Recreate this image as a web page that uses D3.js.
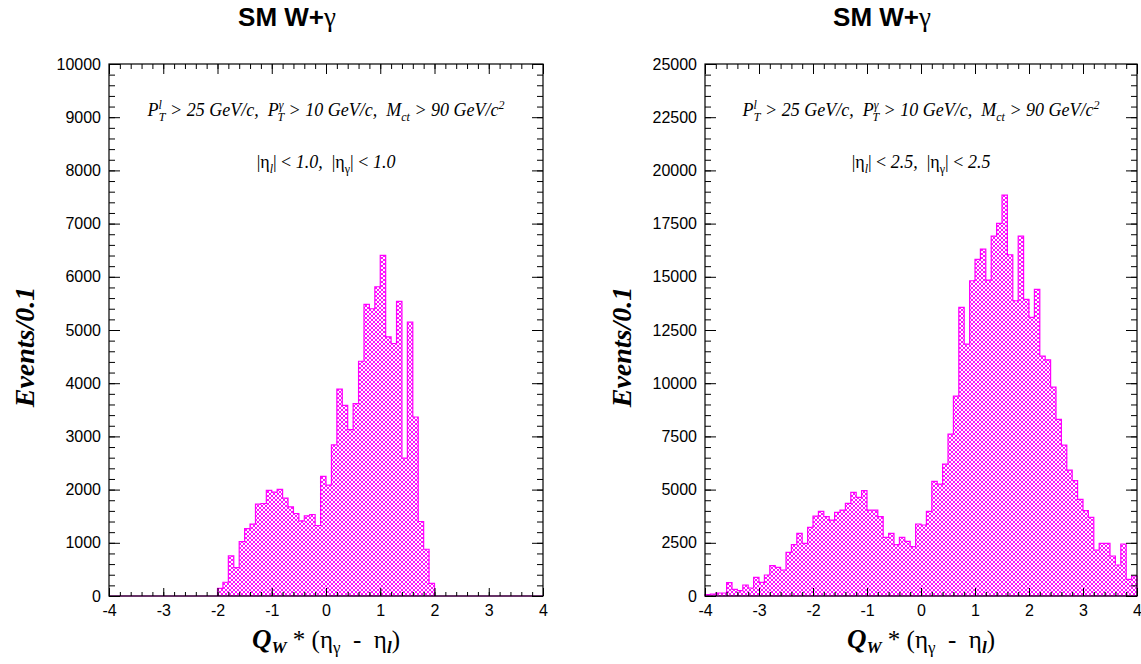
<!DOCTYPE html>
<html>
<head>
<meta charset="utf-8">
<script src="https://cdn.jsdelivr.net/npm/d3@7"></script>
<style>
  body { margin: 0; background: #fff; }
  text { white-space: pre; }
</style>
</head>
<body>
<svg id="chart" width="1141" height="664"></svg>
<script>
// histogram binning (lower edge of first bin, width)
const binStart = -4;
const binWidth = 0.1;

// |eta| < 1.0, counts per 0.1 bin from -4.0 to 3.9
const leftCounts = [
  0, 0, 0, 0, 0, 0, 0, 0, 0, 0,
  0, 0, 0, 0, 0, 0, 0, 0, 0, 0,
  145, 258, 753, 533, 1023, 1268, 1350, 1726, 1739, 1984,
  1953, 2003, 1840, 1676, 1551, 1412, 1507, 1532, 1325, 2248,
  2085, 2840, 3890, 3585, 3126, 3616, 4413, 5480, 5399, 5813,
  6403, 4871, 4746, 5537, 2593, 5147, 3365, 1400, 879, 239,
  0, 0, 0, 0, 0, 0, 0, 0, 0, 0,
  0, 0, 0, 0, 0, 0, 0, 0, 0, 0
];

// |eta| < 2.5
const rightCounts = [
  60, 90, 140, 140, 626, 313, 250, 517, 376, 877,
  642, 987, 1425, 1347, 1221, 2051, 2412, 2944, 2474, 3226,
  3758, 3978, 3727, 3570, 3930, 4040, 4353, 4870, 4635, 4948,
  4040, 4040, 3727, 2756, 2944, 2412, 2756, 2568, 2318, 3383,
  3336, 3978, 5387, 5262, 6201, 7611, 9396, 13562, 11839, 14814,
  15817, 16302, 14846, 16913, 17508, 18839, 16036, 13875, 16913, 13937,
  13092, 14407, 11275, 11100, 9820, 8300, 7094, 5919, 5418, 4541,
  4009, 3696, 2161, 2474, 2474, 1879, 1456, 2443, 783, 940
];

const xTicks = [-4, -3, -2, -1, 0, 1, 2, 3, 4];
const xMinor = d3.range(-4, 4.001, 0.2);
const leftYTicks = [0, 1000, 2000, 3000, 4000, 5000, 6000, 7000, 8000, 9000, 10000];
const rightYTicks = [0, 2500, 5000, 7500, 10000, 12500, 15000, 17500, 20000, 22500, 25000];
const etaCut = ["1.0", "2.5"];

const svg = d3.select("#chart");
svg.append("rect").attr("width", 1141).attr("height", 664).attr("fill", "#fff");

// cross-hatch fill like the ROOT style
const defs = svg.append("defs");
const pat = defs.append("pattern")
  .attr("id", "hatch")
  .attr("patternUnits", "userSpaceOnUse")
  .attr("width", 4).attr("height", 4);
pat.append("rect").attr("width", 4).attr("height", 4).attr("fill", "#fff");
pat.append("path").attr("d", "M0,0 L4,4 M4,0 L0,4 M-1,3 L1,5 M3,-1 L5,1 M-1,1 L1,-1 M3,5 L5,3")
  .attr("stroke", "#ff00ff").attr("stroke-width", 0.95);

const panels = [
  { counts: leftCounts, yTicks: leftYTicks, yMax: 10000, minorStep: 200,
    x0: 109, x1: 543, top: 64, bottom: 596, cut: etaCut[0], titleX: 287, yTitleX: 24 },
  { counts: rightCounts, yTicks: rightYTicks, yMax: 25000, minorStep: 500,
    x0: 705, x1: 1137, top: 64, bottom: 596, cut: etaCut[1], titleX: 882, yTitleX: 621 }
];

panels.forEach(p => {
  const x = d3.scaleLinear().domain([-4, 4]).range([p.x0, p.x1]);
  const y = d3.scaleLinear().domain([0, p.yMax]).range([p.bottom, p.top]);
  const g = svg.append("g");
  const cx = (p.x0 + p.x1) / 2;

  // histogram as step area
  const pts = p.counts.map((c, i) => [binStart + i * binWidth, c]);
  pts.push([binStart + p.counts.length * binWidth, p.counts[p.counts.length - 1]]);
  const area = d3.area()
    .x(d => x(d[0])).y0(y(0)).y1(d => y(d[1]))
    .curve(d3.curveStepAfter);
  g.append("path").attr("d", area(pts))
    .attr("fill", "url(#hatch)")
    .attr("stroke", "#ff00ff").attr("stroke-width", 1.2);

  // ticks, all pointing inward
  const minorY = d3.range(0, p.yMax + 1, p.minorStep);
  g.append("g").attr("transform", `translate(0,${p.bottom})`)
    .call(d3.axisBottom(x).tickValues(xMinor).tickSize(-4).tickFormat(""));
  g.append("g").attr("transform", `translate(0,${p.bottom})`)
    .call(d3.axisBottom(x).tickValues(xTicks).tickSize(-8).tickPadding(9).tickFormat(d => String(d)));
  g.append("g").attr("transform", `translate(0,${p.top})`)
    .call(d3.axisTop(x).tickValues(xMinor).tickSize(-5).tickFormat(""));
  g.append("g").attr("transform", `translate(0,${p.top})`)
    .call(d3.axisTop(x).tickValues(xTicks).tickSize(-10).tickFormat(""));
  g.append("g").attr("transform", `translate(${p.x0},0)`)
    .call(d3.axisLeft(y).tickValues(minorY).tickSize(-6).tickFormat(""));
  g.append("g").attr("transform", `translate(${p.x0},0)`)
    .call(d3.axisLeft(y).tickValues(p.yTicks).tickSize(-11).tickPadding(8).tickFormat(d => String(d)));
  g.append("g").attr("transform", `translate(${p.x1},0)`)
    .call(d3.axisRight(y).tickValues(minorY).tickSize(-6).tickFormat(""));
  g.append("g").attr("transform", `translate(${p.x1},0)`)
    .call(d3.axisRight(y).tickValues(p.yTicks).tickSize(-11).tickFormat(""));

  g.selectAll(".domain").remove();
  g.selectAll(".tick line").attr("stroke", "#000").attr("stroke-width", 1);
  g.selectAll(".tick text")
    .attr("font-family", "Liberation Sans, Arial, sans-serif")
    .attr("font-size", 16).attr("fill", "#000");

  // frame
  g.append("rect")
    .attr("x", p.x0).attr("y", p.top)
    .attr("width", p.x1 - p.x0).attr("height", p.bottom - p.top)
    .attr("fill", "none").attr("stroke", "#000").attr("stroke-width", 1.2);

  // title
  const serif = "Liberation Serif, Times New Roman, serif";
  const title = svg.append("text").attr("x", p.titleX).attr("y", 26)
    .attr("text-anchor", "middle")
    .attr("font-family", "Liberation Sans, Arial, sans-serif")
    .attr("font-weight", "bold").attr("font-size", 26);
  title.append("tspan").text("SM W+");
  title.append("tspan").text("\u03b3").attr("font-family", serif)
    .attr("font-weight", "normal").attr("font-size", 27);

  // cut annotations
  const t1 = svg.append("text").attr("x", cx).attr("y", 116)
    .attr("text-anchor", "middle").attr("font-family", serif)
    .attr("font-style", "italic").attr("font-size", 18);
  const parts1 = [
    ["P"], ["l", 0, -7, 12], ["T", -3, 12, 12], [" > 25 GeV/c,  ", 0, -5],
    ["P"], ["\u03b3", 0, -7, 12], ["T", -6, 12, 12], [" > 10 GeV/c,  ", 0, -5],
    ["M"], ["ct", 0, 5, 12], [" > 90 GeV/c", 0, -5], ["2", 0, -7, 12]
  ];
  parts1.forEach(([s, dx, dy, fs]) => {
    const ts = t1.append("tspan").text(s);
    if (dx) ts.attr("dx", dx);
    if (dy) ts.attr("dy", dy);
    if (fs) ts.attr("font-size", fs);
  });

  const t2 = svg.append("text").attr("x", cx).attr("y", 168)
    .attr("text-anchor", "middle").attr("font-family", serif)
    .attr("font-size", 18);
  const parts2 = [
    ["|\u03b7", 0, 0, 0, "normal"], ["l", 0, 5, 12, "italic"], ["| < ", 0, -5, 0, "normal"],
    [p.cut + ",  ", 0, 0, 0, "italic"], ["|\u03b7", 0, 0, 0, "normal"],
    ["\u03b3", 0, 5, 12, "normal"], ["| < ", 0, -5, 0, "normal"], [p.cut, 0, 0, 0, "italic"]
  ];
  parts2.forEach(([s, dx, dy, fs, st]) => {
    const ts = t2.append("tspan").text(s).attr("font-style", st);
    if (dy) ts.attr("dy", dy);
    if (fs) ts.attr("font-size", fs);
  });

  // x title
  const tx = svg.append("text").attr("x", cx).attr("y", 648)
    .attr("text-anchor", "middle").attr("font-family", serif).attr("font-size", 25);
  tx.append("tspan").text("Q").attr("font-weight", "bold").attr("font-style", "italic").attr("font-size", 27);
  tx.append("tspan").text("W").attr("font-weight", "bold").attr("font-style", "italic")
    .attr("font-size", 17).attr("dy", 5);
  tx.append("tspan").text(" * (\u03b7").attr("dy", -5);
  tx.append("tspan").text("\u03b3").attr("font-size", 17).attr("dy", 5);
  tx.append("tspan").text("  -  \u03b7").attr("dy", -5);
  tx.append("tspan").text("l").attr("font-size", 17).attr("font-style", "italic")
    .attr("font-weight", "bold").attr("dy", 5);
  tx.append("tspan").text(")").attr("dy", -5);

  // y title
  svg.append("text")
    .attr("transform", `translate(${p.yTitleX},347) rotate(-90)`)
    .attr("text-anchor", "middle").attr("dy", "0.35em")
    .attr("font-family", serif).attr("font-weight", "bold").attr("font-style", "italic")
    .attr("font-size", 28)
    .text("Events/0.1");
});
</script>
</body>
</html>
